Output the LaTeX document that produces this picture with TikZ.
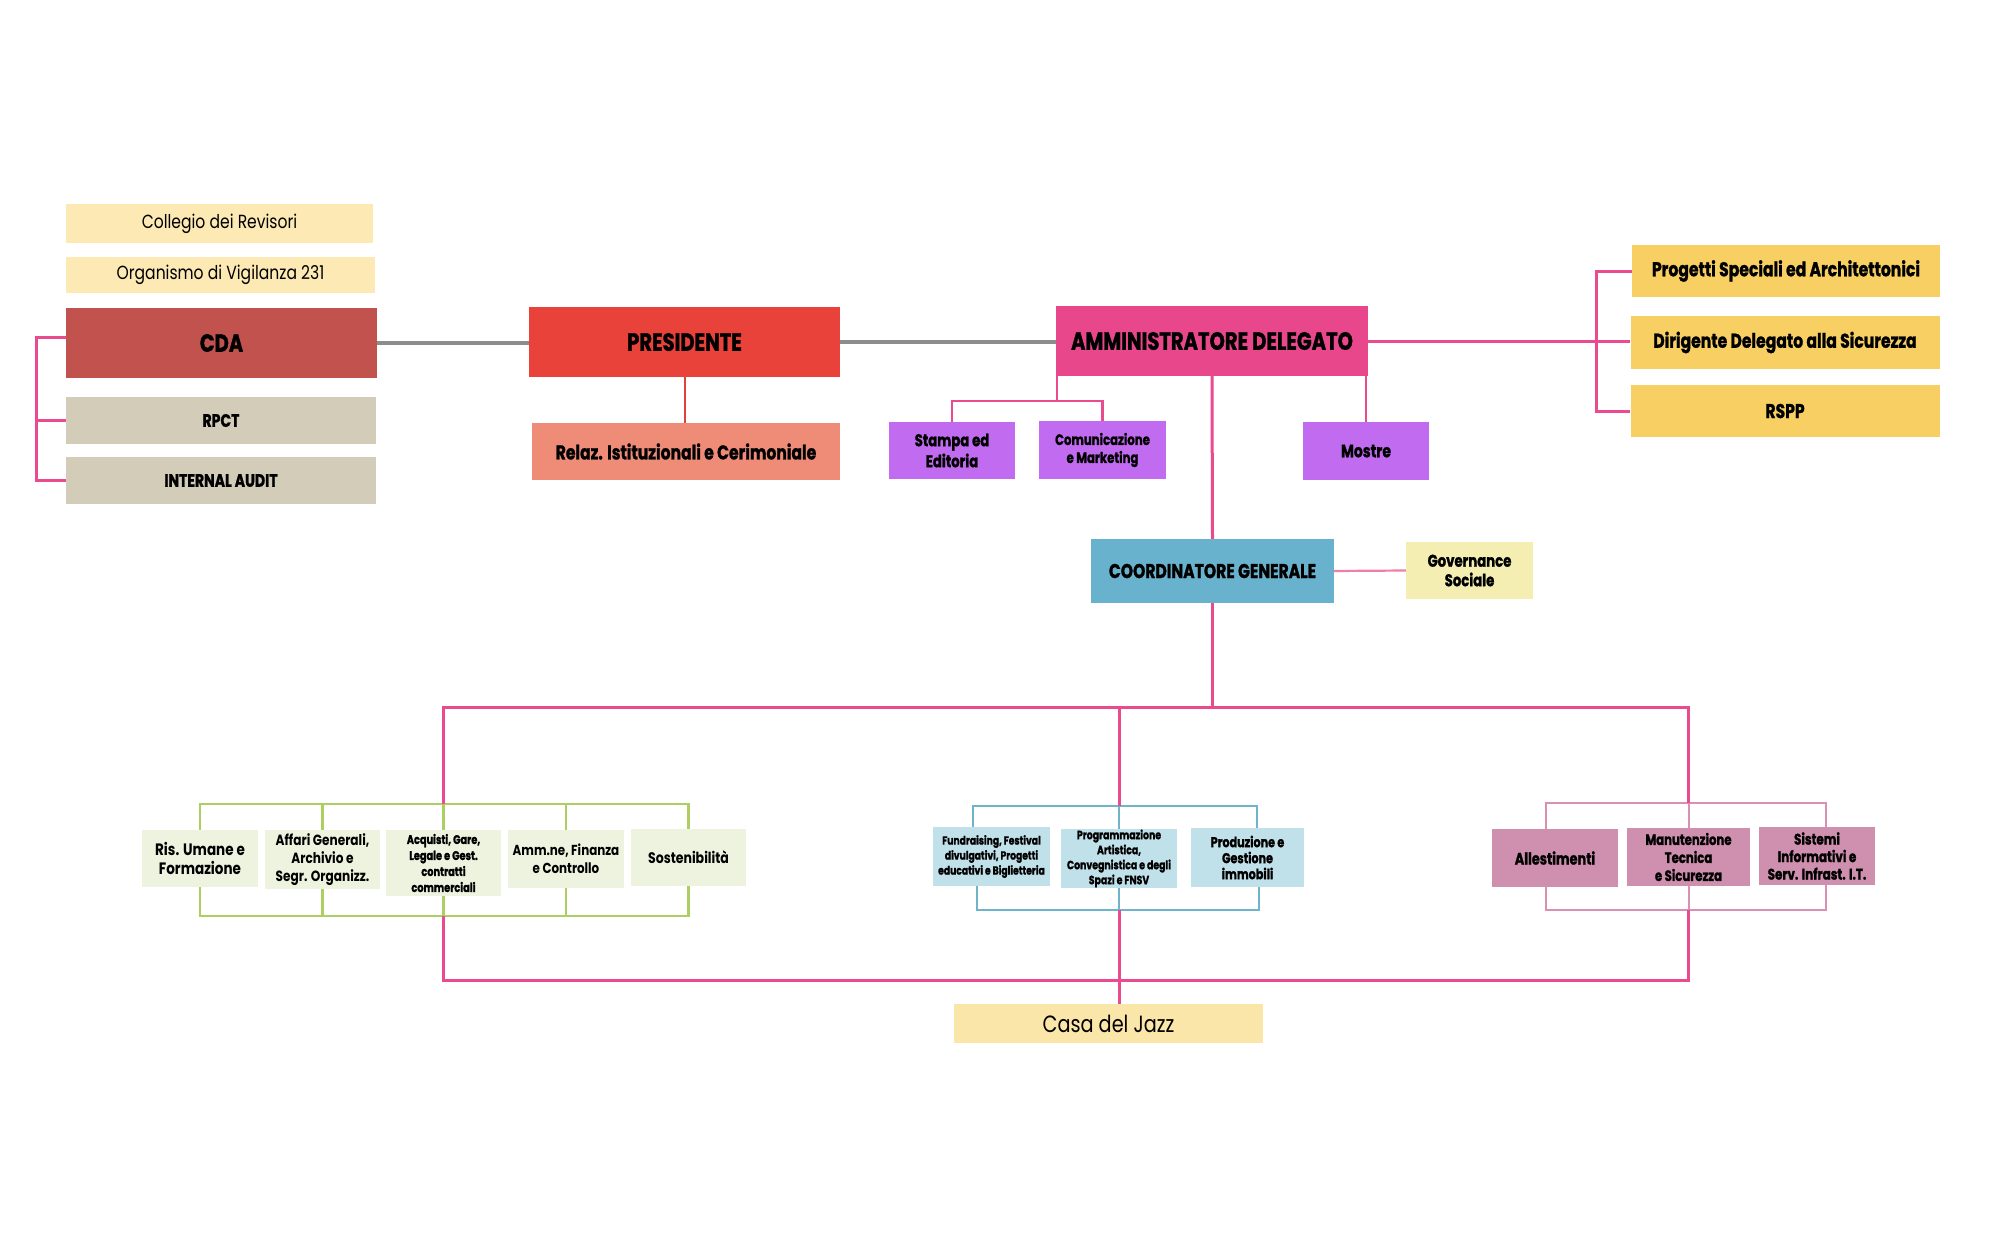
\documentclass[tikz,border=0pt]{standalone}
\usepackage{fontspec}
\setmainfont{Poppins}
\newfontfamily\fc[FakeStretch=0.78,BoldFeatures={FakeBold=1.2}]{Poppins}
\newfontfamily\fm[FakeStretch=0.82]{Poppins}
\usetikzlibrary{backgrounds}
\newcommand\fz[2]{\fontsize{#1}{#2}\selectfont}
\definecolor{collC}{HTML}{FCE9B4}
\definecolor{cdaC}{HTML}{C1524E}
\definecolor{greyBox}{HTML}{D2CCB9}
\definecolor{presC}{HTML}{E9423A}
\definecolor{relazC}{HTML}{EF8C77}
\definecolor{adC}{HTML}{E8478C}
\definecolor{purpC}{HTML}{C16CF0}
\definecolor{yellC}{HTML}{F7CF62}
\definecolor{coordC}{HTML}{68B2CD}
\definecolor{govC}{HTML}{F4EEB2}
\definecolor{greenBox}{HTML}{EEF3DF}
\definecolor{blueBox}{HTML}{C0E1EA}
\definecolor{pinkBox}{HTML}{CF8FAE}
\definecolor{casaC}{HTML}{FBE6A9}
\definecolor{pinkLine}{HTML}{E94B8E}
\definecolor{pinkSoft}{HTML}{EE7FAA}
\definecolor{greenLine}{HTML}{ADCF62}
\definecolor{blueLine}{HTML}{70B4CB}
\definecolor{pinkLight}{HTML}{D991B3}
\definecolor{greyLine}{HTML}{8C8C8C}
\definecolor{redLine}{HTML}{E0413A}
\begin{document}
\begin{tikzpicture}[x=1pt,y=-1pt,
  box/.style={inner sep=0pt, align=center, text=black},
  pinkln/.style={draw=pinkLine, line width=3pt},
  pinkthin/.style={draw=pinkLine, line width=2.2pt},
  pinksoftln/.style={draw=pinkSoft, line width=2.2pt},
  greyln/.style={draw=greyLine, line width=4pt},
  redln/.style={draw=redLine, line width=2pt},
  greenln/.style={draw=greenLine, line width=2.5pt},
  blueln/.style={draw=blueLine, line width=2pt},
  pinklt/.style={draw=pinkLight, line width=2pt},
  bigt/.style={font=\fc\bfseries\fz{25}{29}},
  midt/.style={font=\fc\bfseries\fz{20}{23}},
  smt/.style={font=\fc\bfseries\fz{18}{21}}
]
\useasboundingbox (0,0) rectangle (2000,1237);
% top-left
\node[box,fill=collC,minimum width=307pt,minimum height=39pt,font=\fm\fz{19}{22}] (coll) at (219.5,223.5) {Collegio dei Revisori};
\node[box,fill=collC,minimum width=309pt,minimum height=36pt,font=\fm\fz{19}{22}] (org) at (220.5,275) {Organismo di Vigilanza 231};
\node[box,fill=cdaC,minimum width=311pt,minimum height=70pt,bigt] (cda) at (221.5,343) {CDA};
\node[box,fill=greyBox,minimum width=310pt,minimum height=47pt,smt] (rpct) at (221,420.5) {RPCT};
\node[box,fill=greyBox,minimum width=310pt,minimum height=47pt,smt] (ia) at (221,480.5) {INTERNAL AUDIT};
% presidente
\node[box,fill=presC,minimum width=311pt,minimum height=70pt,bigt] (pres) at (684.5,342) {PRESIDENTE};
\node[box,fill=relazC,minimum width=308pt,minimum height=57pt,midt] (relaz) at (686,451.5) {Relaz. Istituzionali e Cerimoniale};
% AD
\node[box,fill=adC,minimum width=312pt,minimum height=70pt,bigt] (ad) at (1212,341) {AMMINISTRATORE DELEGATO};
\node[box,fill=purpC,minimum width=126pt,minimum height=57pt,font=\fc\bfseries\fz{17}{21}] (stampa) at (952,450.5) {Stampa ed\\Editoria};
\node[box,fill=purpC,minimum width=127pt,minimum height=58pt,font=\fc\bfseries\fz{15}{18}] (comm) at (1102.5,450) {Comunicazione\\e Marketing};
\node[box,fill=purpC,minimum width=126pt,minimum height=58pt,font=\fc\bfseries\fz{18}{21}] (mostre) at (1366,451) {Mostre};
\node[box,fill=coordC,minimum width=243pt,minimum height=64pt,midt] (coord) at (1212.5,571) {COORDINATORE GENERALE};
\node[box,fill=govC,minimum width=127pt,minimum height=57pt,font=\fc\bfseries\fz{17}{19.5}] (gov) at (1469.5,570.5) {Governance\\Sociale};
% right
\node[box,fill=yellC,minimum width=308pt,minimum height=52pt,midt] (prog) at (1786,271) {Progetti Speciali ed Architettonici};
\node[box,fill=yellC,minimum width=309pt,minimum height=53pt,midt] (dir) at (1785,342.5) {Dirigente Delegato alla Sicurezza};
\node[box,fill=yellC,minimum width=309pt,minimum height=52pt,midt] (rspp) at (1785,411) {RSPP};
% green
\node[box,fill=greenBox,minimum width=116pt,minimum height=57pt,font=\fm\bfseries\fz{16.5}{19.5}] (ris) at (200,858.5) {Ris. Umane e\\Formazione};
\node[box,fill=greenBox,minimum width=115pt,minimum height=59pt,font=\fm\bfseries\fz{14.8}{18}] (aff) at (322.5,859.5) {Affari Generali,\\Archivio e\\Segr. Organizz.};
\node[box,fill=greenBox,minimum width=115pt,minimum height=66pt,font=\fc\bfseries\fz{12.5}{16}] (acq) at (443.5,863) {Acquisti, Gare,\\Legale e Gest.\\contratti\\commerciali};
\node[box,fill=greenBox,minimum width=116pt,minimum height=58pt,font=\fm\bfseries\fz{14.5}{18}] (amm) at (566,859) {Amm.ne, Finanza\\e Controllo};
\node[box,fill=greenBox,minimum width=115pt,minimum height=57pt,font=\fm\bfseries\fz{15.3}{18}] (sost) at (688.5,857.5) {Sostenibilità};
% blue
\node[box,fill=blueBox,minimum width=117pt,minimum height=59pt,font=\fc\bfseries\fz{11.8}{15}] (fund) at (991.5,856.5) {Fundraising, Festival\\divulgativi, Progetti\\educativi e Biglietteria};
\node[box,fill=blueBox,minimum width=116pt,minimum height=59pt,font=\fc\bfseries\fz{12}{15}] (prog2) at (1119,858.5) {Programmazione\\Artistica,\\Convegnistica e degli\\Spazi e FNSV};
\node[box,fill=blueBox,minimum width=113pt,minimum height=59pt,font=\fc\bfseries\fz{14.3}{16}] (prod) at (1247.5,857.5) {Produzione e\\Gestione\\immobili};
% pink
\node[box,fill=pinkBox,minimum width=126pt,minimum height=58pt,font=\fc\bfseries\fz{16.5}{20}] (alle) at (1555,858) {Allestimenti};
\node[box,fill=pinkBox,minimum width=123pt,minimum height=58pt,font=\fc\bfseries\fz{15}{18}] (manu) at (1688.5,857) {Manutenzione\\Tecnica\\e Sicurezza};
\node[box,fill=pinkBox,minimum width=116pt,minimum height=58pt,font=\fc\bfseries\fz{15.3}{17.5}] (sist) at (1817,856) {Sistemi\\Informativi e\\Serv. Infrast. I.T.};
\node[box,fill=casaC,minimum width=309pt,minimum height=39pt,font=\fm\fz{23.5}{26}] (casa) at (1108.5,1023.5) {Casa del Jazz};
% helper coordinates
\coordinate (lb) at (36,0);
\coordinate (cdaL) at ([yshift=6pt]cda.west);
\coordinate (sc) at (1057,401);
\coordinate (rb) at (1596,0);
\coordinate (bus) at (0,707);
\coordinate (gt) at (0,804);
\coordinate (gb) at (0,916);
\coordinate (bt) at (0,806);
\coordinate (bb) at (0,910);
\coordinate (pt) at (0,803);
\coordinate (pb) at (0,910);
\coordinate (lp) at (0,980);
\coordinate (fx) at (973,0);
\coordinate (fxb) at (977,0);
\coordinate (px) at (1257,0);
\coordinate (pxb) at (1259,0);
\coordinate (ax) at (1546,0);
\coordinate (sx) at (1826,0);
\begin{scope}[on background layer]
\fill[white] (0,0) rectangle (2000,1237);
\draw[pinkln] (cdaL) -- (cdaL -| lb) |- (ia.west);
\draw[pinkln] (rpct.west) -- (rpct.west -| lb);
\draw[greyln] (cda.east) -- (cda.east -| pres.west);
\draw[greyln] (pres.east) -- (pres.east -| ad.west);
\draw[redln] (pres.south) -- (pres.south |- relaz.north);
\draw[pinkthin] (stampa.north) |- (sc) -| (comm.north);
\draw[pinkthin] (sc) -- (sc |- ad.south);
\draw[pinkthin] (mostre.north) -- (mostre.north |- ad.south);
\draw[pinksoftln] (coord.east) -- (gov.west);
\draw[pinkln] (ad.east) -- (ad.east -| dir.west);
\draw[pinkln] (prog.west) -- (prog.west -| rb) |- (rspp.west);
% green brackets
\draw[greenln] (ris.north) -- (ris.north |- gt) -- (sost.north |- gt) -- (sost.north);
\foreach \n in {aff,acq,amm} \draw[greenln] (\n.north) -- (\n.north |- gt);
\draw[greenln] (ris.south) -- (ris.south |- gb) -- (sost.south |- gb) -- (sost.south);
\foreach \n in {aff,acq,amm} \draw[greenln] (\n.south) -- (\n.south |- gb);
% blue brackets
\draw[blueln] (fund.north -| fx) -- (fx |- bt) -- (px |- bt) -- (prod.north -| px);
\draw[blueln] (prog2.north) -- (prog2.north |- bt);
\draw[blueln] (fund.south -| fxb) -- (fxb |- bb) -- (pxb |- bb) -- (prod.south -| pxb);
\draw[blueln] (prog2.south) -- (prog2.south |- bb);
% pink brackets
\draw[pinklt] (alle.north -| ax) -- (ax |- pt) -- (sx |- pt) -- (sist.north -| sx);
\draw[pinklt] (manu.north) -- (manu.north |- pt);
\draw[pinklt] (alle.south -| ax) -- (ax |- pb) -- (sx |- pb) -- (sist.south -| sx);
\draw[pinklt] (manu.south) -- (manu.south |- pb);
% main pink
\draw[pinkln] (ad.south) -- (coord.north);
\draw[pinkln] (coord.south) -- (coord.south |- bus);
\draw[pinkln] (acq.north |- gt) -- (acq.north |- bus) -- (manu.north |- bus) -- (manu.north |- pt);
\draw[pinkln] (prog2.north |- bus) -- (prog2.north |- bt);
\draw[pinkln] (acq.south |- gb) -- (acq.south |- lp) -- (manu.south |- lp) -- (manu.south |- pb);
\draw[pinkln] (prog2.south |- bb) -- (prog2.south |- casa.north);
\end{scope}
\end{tikzpicture}
\end{document}
